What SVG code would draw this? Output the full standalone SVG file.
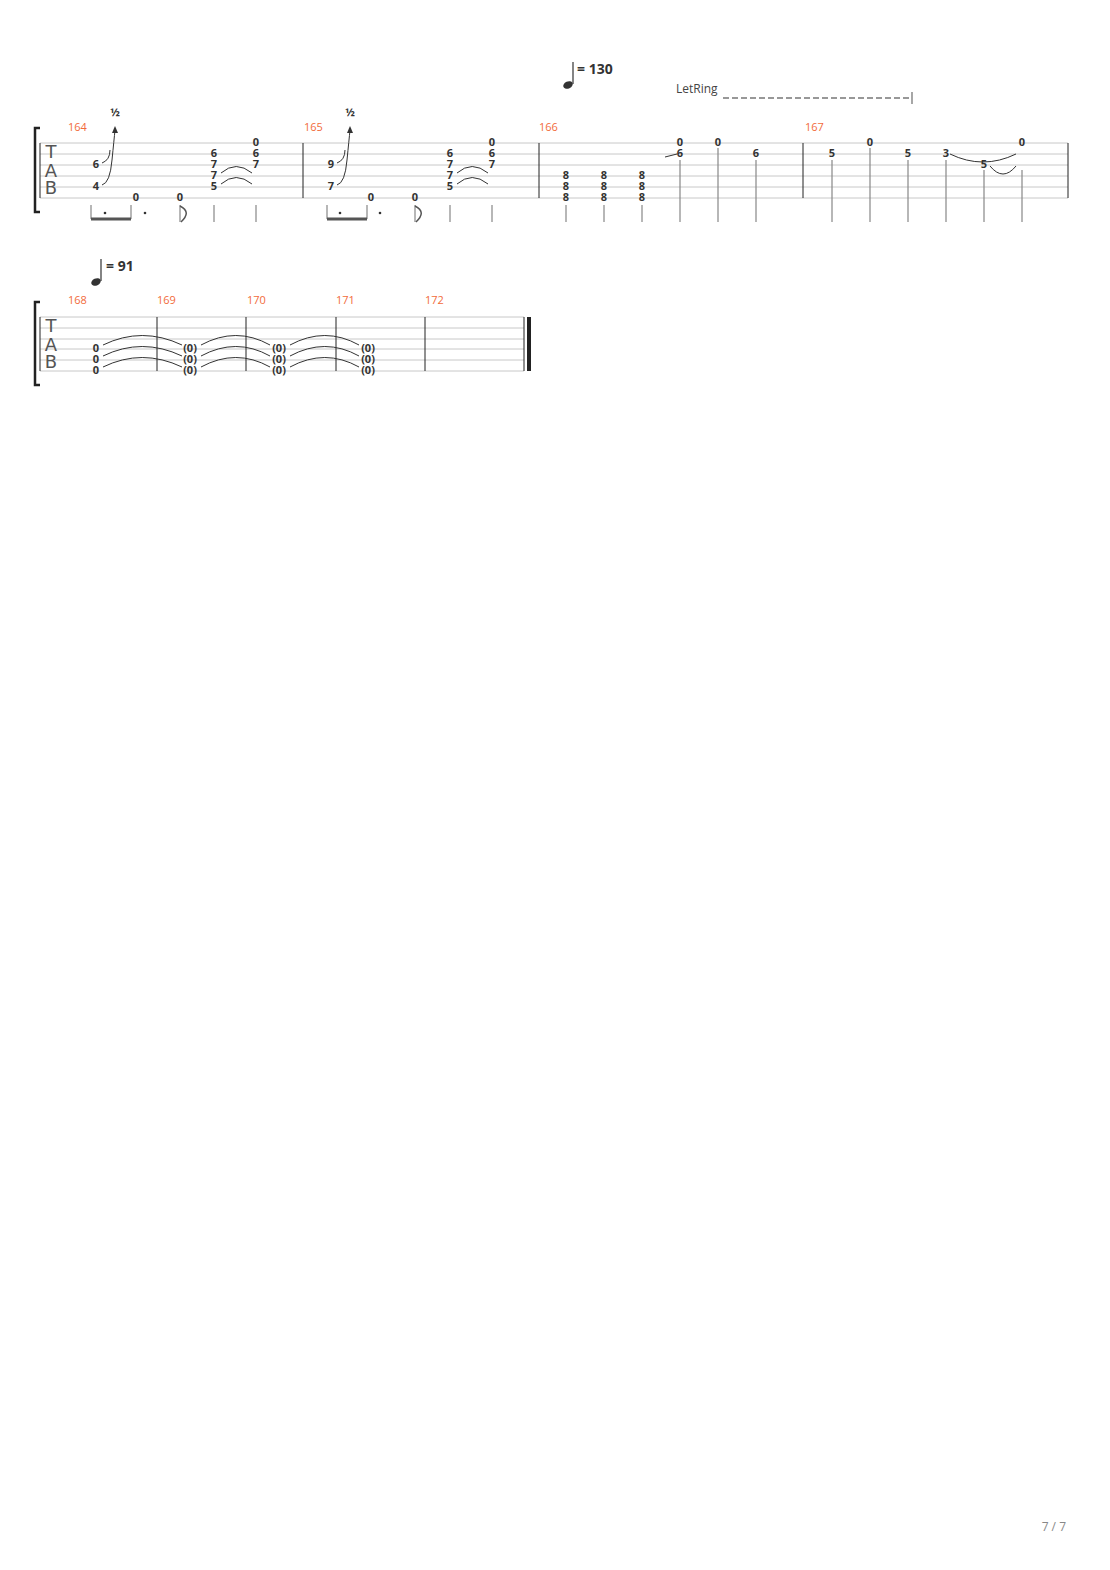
<svg xmlns="http://www.w3.org/2000/svg" width="1110" height="1570" viewBox="0 0 1110 1570">
<style>
.l{stroke:#c8c8c8;stroke-width:1}
.b{stroke:#222;stroke-width:1}
.n{font-family:"Open Sans","DejaVu Sans",sans-serif;font-size:11px;font-weight:bold;fill:#333;text-anchor:middle;dominant-baseline:central}
.m{font-family:"Open Sans","DejaVu Sans",sans-serif;font-size:11px;fill:#f26b3a}
.s{stroke:#888;stroke-width:1.2}
.t{fill:none;stroke:#333;stroke-width:1}
.tab{font-family:"DejaVu Sans",sans-serif;font-size:18px;fill:#555;text-anchor:middle}
</style>
<rect width="1110" height="1570" fill="#fff"/>
<g id="staff1">
<path class="l" d="M40 143H1068M40 154H1068M40 165H1068M40 176H1068M40 187H1068M40 198H1068"/>
<path class="b" d="M40 143V198M303 143V198M539 143V198M803 143V198M1068 143V198"/>
<path d="M40 128H35V212H40" fill="none" stroke="#222" stroke-width="2.5"/>
<text class="tab" x="51" y="158">T</text><text class="tab" x="51" y="177">A</text><text class="tab" x="51" y="194">B</text>
<text class="m" x="68" y="131">164</text><text class="m" x="304" y="131">165</text><text class="m" x="539" y="131">166</text><text class="m" x="805" y="131">167</text>
</g>
<g id="staff2">
<path class="l" d="M40 317H524M40 328H524M40 339H524M40 349H524M40 360H524M40 371H524"/>
<path class="b" d="M40 317V371M157 317V371M246 317V371M336 317V371M425 317V371M524 317V371"/>
<rect x="527" y="317" width="4" height="54" fill="#222"/>
<path d="M40 302H35V385H40" fill="none" stroke="#222" stroke-width="2.5"/>
<text class="tab" x="51" y="332">T</text><text class="tab" x="51" y="351">A</text><text class="tab" x="51" y="368">B</text>
<text class="m" x="68" y="304">168</text><text class="m" x="157" y="304">169</text><text class="m" x="247" y="304">170</text><text class="m" x="336" y="304">171</text><text class="m" x="425" y="304">172</text>
</g>
<g id="tempo1">
<path d="M573 62V84" stroke="#333" stroke-width="1.2"/><ellipse cx="568" cy="85" rx="5" ry="3.5" fill="#333" transform="rotate(-25 568 85)"/>
<text x="577" y="74" font-family="Open Sans,DejaVu Sans,sans-serif" font-size="14" font-weight="bold" fill="#333">= 130</text>
<text x="676" y="93" font-family="Open Sans,DejaVu Sans,sans-serif" font-size="12" fill="#444">LetRing</text>
<path d="M723 98H910" stroke="#777" stroke-width="1.3" stroke-dasharray="6,3"/><path d="M912 92V104" stroke="#777" stroke-width="1.3"/>
</g>
<g id="tempo2">
<path d="M101 259V281" stroke="#333" stroke-width="1.2"/><ellipse cx="96" cy="282" rx="5" ry="3.5" fill="#333" transform="rotate(-25 96 282)"/>
<text x="106" y="271" font-family="Open Sans,DejaVu Sans,sans-serif" font-size="14" font-weight="bold" fill="#333">= 91</text>
</g>
<g id="connectors">
<path class="t" d="M102 163Q110 160 110 150M102 185Q110 183 112 160Q114 140 115 130"/>
<path d="M115 126L112 133H118Z" fill="#333"/>
<path class="t" d="M337 163Q345 160 345 150M337 185Q345 183 347 160Q349 140 350 130"/>
<path d="M350 126L347 133H353Z" fill="#333"/>
<path class="t" d="M221 173Q236 160 252 173M221 184Q236 171 252 184M457 173Q472 160 488 173M457 184Q472 171 488 184"/>
<path class="t" d="M665 157L677 154"/>
<path class="t" d="M950 154Q983 170 1016 154M990 166Q1003 182 1016 166"/>
<path class="t" d="M103 345Q142 326 182 345M103 356Q142 337 182 356M103 367Q142 348 182 367M201 345Q236 326 270 345M201 356Q236 337 270 356M201 367Q236 348 270 367M290 345Q325 326 359 345M290 356Q325 337 359 356M290 367Q325 348 359 367"/>
<path class="s" d="M91 205V219M131 205V219M180 205V222M214 205V222M256 205V222M327 205V219M367 205V219M415 205V222M450 205V222M492 205V222M566 205V222M604 205V222M642 205V222M680 160V222M718 148V222M756 160V222M832 160V222M870 148V222M908 160V222M946 160V222M984 170V222M1022 170V222"/>
<path d="M91 219H131M327 219H367" stroke="#555" stroke-width="3"/>
<path d="M180 206Q192 212 181 222M415 206Q427 212 416 222" fill="none" stroke="#555" stroke-width="1.5"/>
<circle cx="105" cy="213" r="1.3" fill="#333"/><circle cx="145" cy="213" r="1.3" fill="#333"/><circle cx="340" cy="213" r="1.3" fill="#333"/><circle cx="380" cy="213" r="1.3" fill="#333"/>
</g>
<g id="bends">
<text x="115" y="111" class="n">½</text><text x="350" y="111" class="n">½</text>
</g>
<g id="notes1">
<text class="n" x="96" y="163">6</text><text class="n" x="96" y="185">4</text><text class="n" x="136" y="196">0</text><text class="n" x="180" y="196">0</text>
<text class="n" x="214" y="152">6</text><text class="n" x="214" y="163">7</text><text class="n" x="214" y="174">7</text><text class="n" x="214" y="185">5</text>
<text class="n" x="256" y="141">0</text><text class="n" x="256" y="152">6</text><text class="n" x="256" y="163">7</text>
<text class="n" x="331" y="163">9</text><text class="n" x="331" y="185">7</text><text class="n" x="371" y="196">0</text><text class="n" x="415" y="196">0</text>
<text class="n" x="450" y="152">6</text><text class="n" x="450" y="163">7</text><text class="n" x="450" y="174">7</text><text class="n" x="450" y="185">5</text>
<text class="n" x="492" y="141">0</text><text class="n" x="492" y="152">6</text><text class="n" x="492" y="163">7</text>
<text class="n" x="566" y="174">8</text><text class="n" x="566" y="185">8</text><text class="n" x="566" y="196">8</text>
<text class="n" x="604" y="174">8</text><text class="n" x="604" y="185">8</text><text class="n" x="604" y="196">8</text>
<text class="n" x="642" y="174">8</text><text class="n" x="642" y="185">8</text><text class="n" x="642" y="196">8</text>
<text class="n" x="680" y="141">0</text><text class="n" x="680" y="152">6</text><text class="n" x="718" y="141">0</text><text class="n" x="756" y="152">6</text>
<text class="n" x="832" y="152">5</text><text class="n" x="870" y="141">0</text><text class="n" x="908" y="152">5</text><text class="n" x="946" y="152">3</text><text class="n" x="984" y="163">5</text><text class="n" x="1022" y="141">0</text>
</g>
<g id="notes2">
<text class="n" x="96" y="347">0</text><text class="n" x="96" y="358">0</text><text class="n" x="96" y="369">0</text>
<text class="n" x="190" y="347">(0)</text><text class="n" x="190" y="358">(0)</text><text class="n" x="190" y="369">(0)</text>
<text class="n" x="279" y="347">(0)</text><text class="n" x="279" y="358">(0)</text><text class="n" x="279" y="369">(0)</text>
<text class="n" x="368" y="347">(0)</text><text class="n" x="368" y="358">(0)</text><text class="n" x="368" y="369">(0)</text>
</g>
<text x="1066" y="1531" text-anchor="end" font-family="Open Sans,DejaVu Sans,sans-serif" font-size="12" fill="#888">7 / 7</text>
</svg>
